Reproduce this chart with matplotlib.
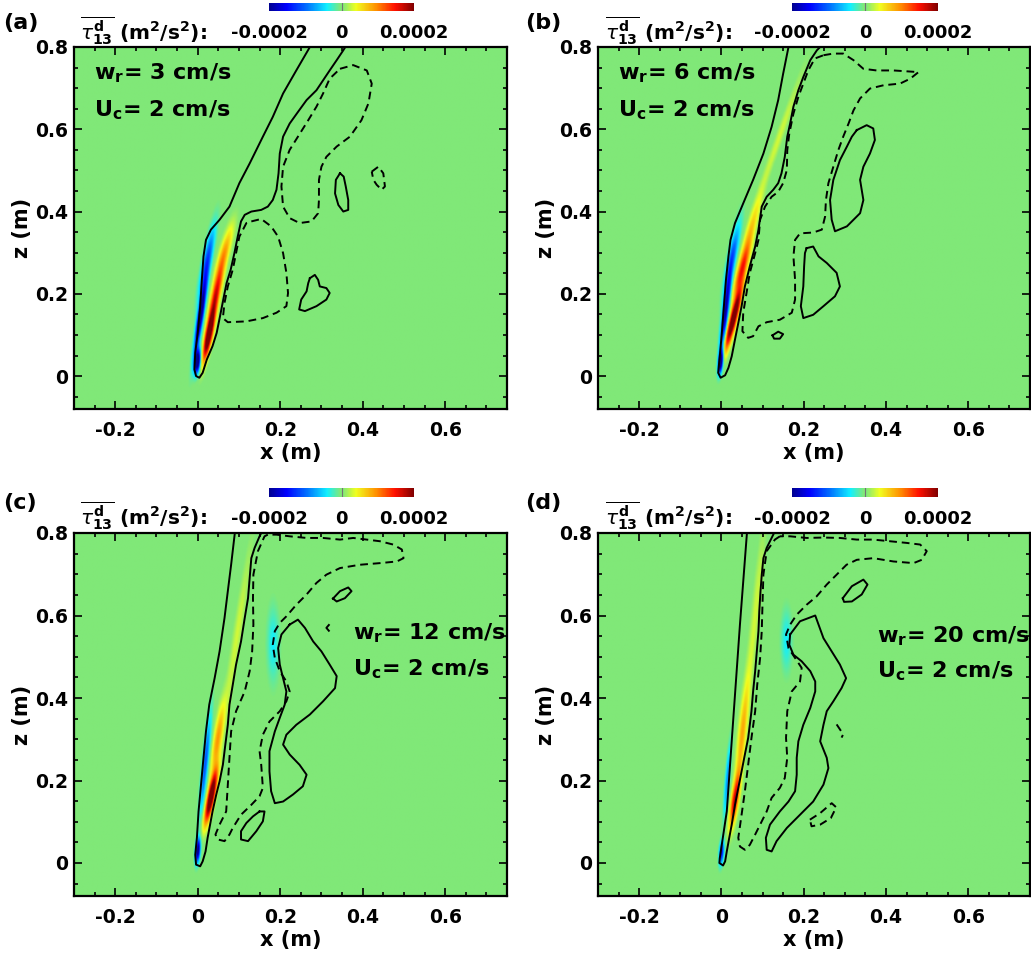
import numpy as np
import matplotlib.pyplot as plt
from matplotlib.colors import LinearSegmentedColormap
from matplotlib.ticker import MultipleLocator

# ---- values: x, z in m, stress amplitude in 1e-4 m^2/s^2 ----
panel_tags = ['(a)', '(b)', '(c)', '(d)']
wr_cm_s = [3, 6, 12, 20]
uc_cm_s = [2, 2, 2, 2]
x_ticks = [-0.2, 0, 0.2, 0.4, 0.6]
x_tick_labels = ['-0.2', '0', '0.2', '0.4', '0.6']
z_ticks = [0, 0.2, 0.4, 0.6, 0.8]
z_tick_labels = ['0', '0.2', '0.4', '0.6', '0.8']
cbar_ticks = [-0.0002, 0, 0.0002]
cbar_tick_labels = ['-0.0002', '0', '0.0002']

# plume cores: (x, z, sigma across, sigma along, amplitude, tilt dx/dz)
a_cores = [(-0.001, 0.035, 0.005, 0.020, -2.6, 0.10),
           (0.007, 0.15, 0.005, 0.065, -2.3, 0.15),
           (0.022, 0.28, 0.007, 0.060, -1.1, 0.20),
           (0.027, 0.10, 0.006, 0.045, 2.6, 0.20),
           (0.044, 0.20, 0.007, 0.050, 1.5, 0.22),
           (0.064, 0.30, 0.008, 0.050, 0.8, 0.28)]
b_cores = [(-0.002, 0.035, 0.004, 0.020, -2.6, 0.10),
           (0.010, 0.16, 0.005, 0.065, -2.0, 0.12),
           (0.026, 0.29, 0.007, 0.060, -1.0, 0.20),
           (0.029, 0.14, 0.006, 0.055, 2.6, 0.25),
           (0.050, 0.26, 0.007, 0.050, 1.4, 0.28),
           (0.072, 0.36, 0.007, 0.060, 0.6, 0.30),
           (0.140, 0.58, 0.006, 0.120, 0.3, 0.35)]
c_cores = [(0.000, 0.030, 0.004, 0.020, -2.2, 0.08),
           (0.018, 0.24, 0.005, 0.080, -1.1, 0.10),
           (0.032, 0.16, 0.006, 0.045, 2.6, 0.20),
           (0.048, 0.30, 0.007, 0.060, 0.9, 0.15),
           (0.095, 0.55, 0.007, 0.150, 0.3, 0.15),
           (0.183, 0.53, 0.010, 0.060, -0.4, 0.00)]
d_cores = [(0.000, 0.025, 0.004, 0.020, -1.5, 0.08),
           (0.014, 0.20, 0.004, 0.060, -0.8, 0.08),
           (0.032, 0.15, 0.006, 0.045, 1.6, 0.15),
           (0.050, 0.31, 0.007, 0.090, 0.8, 0.10),
           (0.082, 0.60, 0.007, 0.150, 0.3, 0.10),
           (0.158, 0.54, 0.009, 0.050, -0.4, 0.00)]

# contour lines (x, z)
a_outer = [(0.272, 0.800), (0.239, 0.743), (0.207, 0.687), (0.182, 0.630), (0.158, 0.582),
           (0.126, 0.517), (0.101, 0.469), (0.077, 0.412), (0.053, 0.380), (0.032, 0.356),
           (0.020, 0.331), (0.014, 0.291), (0.010, 0.234), (0.006, 0.170), (0.000, 0.105),
           (-0.006, 0.057), (-0.008, 0.016), (-0.004, 0.000), (0.004, -0.004), (0.012, 0.008),
           (0.022, 0.040), (0.036, 0.073), (0.046, 0.105), (0.054, 0.145), (0.062, 0.186),
           (0.070, 0.226), (0.080, 0.259), (0.089, 0.299), (0.097, 0.339), (0.105, 0.376),
           (0.114, 0.392), (0.130, 0.400), (0.154, 0.404), (0.170, 0.412), (0.182, 0.428),
           (0.191, 0.453), (0.196, 0.493), (0.199, 0.541), (0.207, 0.582), (0.223, 0.614),
           (0.243, 0.642), (0.264, 0.671), (0.288, 0.695), (0.304, 0.719), (0.320, 0.743),
           (0.337, 0.768), (0.353, 0.792), (0.358, 0.800)]
a_dash_low = [(0.130, 0.376), (0.154, 0.382), (0.178, 0.364), (0.195, 0.339), (0.207, 0.299),
              (0.215, 0.251), (0.219, 0.202), (0.215, 0.170), (0.191, 0.154), (0.158, 0.141),
              (0.118, 0.133), (0.073, 0.131), (0.061, 0.141), (0.065, 0.178), (0.073, 0.218),
              (0.085, 0.259), (0.093, 0.299), (0.101, 0.339), (0.118, 0.372)]
a_dash_up = [(0.345, 0.747), (0.377, 0.756), (0.410, 0.743), (0.422, 0.711), (0.414, 0.663),
             (0.397, 0.622), (0.369, 0.582), (0.337, 0.558), (0.312, 0.533), (0.300, 0.509),
             (0.294, 0.477), (0.294, 0.428), (0.292, 0.396), (0.276, 0.376), (0.247, 0.372),
             (0.223, 0.384), (0.207, 0.412), (0.203, 0.461), (0.207, 0.509), (0.223, 0.550),
             (0.243, 0.582), (0.268, 0.622), (0.288, 0.655), (0.304, 0.687), (0.320, 0.723)]
a_solid_up = [(0.345, 0.493), (0.354, 0.485), (0.359, 0.461), (0.365, 0.428), (0.365, 0.404),
              (0.353, 0.400), (0.341, 0.416), (0.333, 0.444), (0.335, 0.477)]
a_dash_tiny = [(0.422, 0.497), (0.438, 0.509), (0.450, 0.493), (0.454, 0.461), (0.446, 0.453),
               (0.434, 0.465), (0.426, 0.477)]
a_solid_low = [(0.272, 0.238), (0.284, 0.246), (0.292, 0.234), (0.296, 0.218), (0.312, 0.214),
               (0.320, 0.202), (0.312, 0.186), (0.288, 0.170), (0.260, 0.158), (0.246, 0.162),
               (0.251, 0.186), (0.264, 0.206), (0.268, 0.226)]

b_outer = [(0.163, 0.800), (0.150, 0.735), (0.138, 0.671), (0.122, 0.606), (0.102, 0.541),
           (0.077, 0.477), (0.053, 0.420), (0.033, 0.372), (0.022, 0.331), (0.017, 0.291),
           (0.011, 0.234), (0.006, 0.170), (0.001, 0.105), (-0.004, 0.048), (-0.008, 0.008),
           (-0.002, -0.004), (0.009, 0.002), (0.017, 0.020), (0.025, 0.048), (0.033, 0.089),
           (0.041, 0.129), (0.049, 0.170), (0.057, 0.218), (0.069, 0.267), (0.082, 0.315),
           (0.090, 0.356), (0.098, 0.412), (0.110, 0.436), (0.126, 0.453), (0.138, 0.469),
           (0.146, 0.493), (0.154, 0.533), (0.160, 0.582), (0.167, 0.614), (0.175, 0.655),
           (0.187, 0.695), (0.199, 0.727), (0.216, 0.768), (0.232, 0.792), (0.240, 0.800)]
b_dash = [(0.248, 0.780), (0.272, 0.784), (0.296, 0.784), (0.321, 0.768), (0.345, 0.747),
          (0.377, 0.743), (0.418, 0.743), (0.479, 0.739), (0.459, 0.723), (0.434, 0.711),
          (0.394, 0.707), (0.361, 0.699), (0.337, 0.675), (0.321, 0.646), (0.309, 0.614),
          (0.296, 0.582), (0.284, 0.549), (0.272, 0.509), (0.260, 0.469), (0.254, 0.428),
          (0.252, 0.388), (0.244, 0.356), (0.223, 0.349), (0.191, 0.347), (0.179, 0.331),
          (0.175, 0.291), (0.179, 0.234), (0.179, 0.186), (0.171, 0.154), (0.142, 0.137),
          (0.110, 0.131), (0.090, 0.121), (0.077, 0.097), (0.065, 0.093), (0.051, 0.109),
          (0.053, 0.154), (0.061, 0.202), (0.069, 0.251), (0.082, 0.299), (0.090, 0.331),
          (0.094, 0.380), (0.106, 0.412), (0.122, 0.436), (0.138, 0.448), (0.150, 0.469),
          (0.159, 0.501), (0.160, 0.549), (0.165, 0.590), (0.175, 0.638), (0.187, 0.679),
          (0.199, 0.711), (0.211, 0.743), (0.227, 0.772)]
b_solid_up = [(0.329, 0.598), (0.353, 0.610), (0.369, 0.602), (0.373, 0.574), (0.361, 0.541),
              (0.345, 0.509), (0.337, 0.477), (0.345, 0.428), (0.337, 0.396), (0.305, 0.364),
              (0.276, 0.352), (0.268, 0.380), (0.264, 0.428), (0.272, 0.477), (0.288, 0.525),
              (0.305, 0.558), (0.317, 0.582)]
b_solid_low = [(0.207, 0.311), (0.223, 0.315), (0.236, 0.291), (0.256, 0.275), (0.280, 0.251),
               (0.288, 0.218), (0.276, 0.194), (0.248, 0.170), (0.223, 0.149), (0.199, 0.141),
               (0.193, 0.170), (0.199, 0.218), (0.201, 0.267), (0.203, 0.299)]
b_solid_tiny = [(0.124, 0.099), (0.138, 0.108), (0.150, 0.102), (0.142, 0.091), (0.128, 0.091)]

c_outer = [(0.090, 0.800), (0.081, 0.723), (0.073, 0.659), (0.065, 0.594), (0.053, 0.513),
           (0.041, 0.448), (0.028, 0.384), (0.020, 0.319), (0.014, 0.255), (0.008, 0.190),
           (0.002, 0.125), (-0.002, 0.061), (-0.006, 0.020), (-0.004, -0.004), (0.006, -0.008),
           (0.012, 0.004), (0.019, 0.028), (0.024, 0.061), (0.030, 0.093), (0.036, 0.125),
           (0.045, 0.166), (0.053, 0.198), (0.061, 0.238), (0.067, 0.287), (0.073, 0.335),
           (0.077, 0.384), (0.085, 0.432), (0.093, 0.481), (0.105, 0.537), (0.114, 0.594),
           (0.122, 0.642), (0.126, 0.691), (0.130, 0.739), (0.138, 0.764), (0.150, 0.792),
           (0.154, 0.800)]
c_dash = [(0.170, 0.796), (0.162, 0.792), (0.146, 0.756), (0.135, 0.699), (0.134, 0.642),
          (0.135, 0.578), (0.132, 0.513), (0.126, 0.465), (0.114, 0.416), (0.093, 0.368),
          (0.081, 0.319), (0.077, 0.255), (0.073, 0.190), (0.069, 0.125), (0.053, 0.093),
          (0.043, 0.069), (0.049, 0.057), (0.065, 0.053), (0.077, 0.069), (0.085, 0.085),
          (0.105, 0.117), (0.130, 0.141), (0.150, 0.162), (0.158, 0.182), (0.154, 0.238),
          (0.150, 0.271), (0.158, 0.311), (0.174, 0.343), (0.199, 0.368), (0.215, 0.392),
          (0.223, 0.416), (0.215, 0.440), (0.199, 0.465), (0.187, 0.497), (0.182, 0.529),
          (0.187, 0.562), (0.199, 0.582), (0.215, 0.598), (0.239, 0.626), (0.264, 0.651),
          (0.288, 0.679), (0.312, 0.699), (0.345, 0.715), (0.393, 0.723), (0.442, 0.727),
          (0.483, 0.731), (0.499, 0.739), (0.495, 0.760), (0.474, 0.772), (0.442, 0.780),
          (0.410, 0.784), (0.377, 0.788), (0.345, 0.784), (0.304, 0.788), (0.264, 0.788),
          (0.223, 0.792), (0.191, 0.796)]
c_solid_big = [(0.223, 0.578), (0.243, 0.590), (0.260, 0.570), (0.280, 0.537), (0.300, 0.513),
               (0.320, 0.481), (0.337, 0.453), (0.333, 0.424), (0.304, 0.392), (0.272, 0.360),
               (0.239, 0.335), (0.215, 0.311), (0.207, 0.287), (0.223, 0.263), (0.247, 0.238),
               (0.264, 0.214), (0.255, 0.186), (0.231, 0.166), (0.207, 0.149), (0.187, 0.145),
               (0.178, 0.174), (0.174, 0.222), (0.174, 0.271), (0.187, 0.319), (0.199, 0.352),
               (0.211, 0.384), (0.215, 0.416), (0.207, 0.448), (0.199, 0.481), (0.195, 0.521),
               (0.203, 0.554)]
c_solid_low = [(0.150, 0.125), (0.162, 0.125), (0.158, 0.101), (0.142, 0.077), (0.122, 0.053),
               (0.105, 0.057), (0.105, 0.077), (0.118, 0.097), (0.134, 0.113)]
c_solid_oval = [(0.328, 0.641), (0.345, 0.659), (0.365, 0.668), (0.373, 0.659), (0.357, 0.642),
                (0.337, 0.634)]
c_hook = [(0.318, 0.577), (0.312, 0.570), (0.318, 0.563)]

d_outer = [(0.062, 0.800), (0.045, 0.578), (0.029, 0.352), (0.013, 0.125), (-0.004, 0.012),
           (-0.005, 0.000), (0.004, -0.006), (0.009, 0.004), (0.013, 0.028), (0.019, 0.061),
           (0.025, 0.093), (0.033, 0.141), (0.041, 0.182), (0.049, 0.222), (0.057, 0.263),
           (0.065, 0.303), (0.069, 0.335), (0.073, 0.368), (0.077, 0.416), (0.082, 0.465),
           (0.086, 0.513), (0.090, 0.562), (0.092, 0.610), (0.095, 0.659), (0.098, 0.699),
           (0.102, 0.739), (0.110, 0.764), (0.118, 0.780), (0.128, 0.800)]
d_dash = [(0.142, 0.792), (0.130, 0.784), (0.110, 0.756), (0.102, 0.699), (0.100, 0.634),
          (0.098, 0.562), (0.094, 0.497), (0.087, 0.432), (0.082, 0.368), (0.073, 0.303),
          (0.065, 0.238), (0.057, 0.174), (0.049, 0.117), (0.041, 0.061), (0.045, 0.040),
          (0.057, 0.032), (0.069, 0.044), (0.082, 0.069), (0.094, 0.093), (0.110, 0.125),
          (0.122, 0.158), (0.142, 0.182), (0.154, 0.206), (0.160, 0.255), (0.157, 0.303),
          (0.160, 0.368), (0.171, 0.416), (0.191, 0.440), (0.195, 0.473), (0.179, 0.497),
          (0.163, 0.521), (0.157, 0.554), (0.167, 0.578), (0.183, 0.602), (0.207, 0.626),
          (0.231, 0.646), (0.256, 0.675), (0.280, 0.699), (0.304, 0.723), (0.329, 0.735),
          (0.369, 0.739), (0.418, 0.731), (0.467, 0.727), (0.487, 0.735), (0.499, 0.756),
          (0.483, 0.772), (0.450, 0.776), (0.410, 0.780), (0.369, 0.784), (0.329, 0.784),
          (0.288, 0.788), (0.248, 0.789), (0.207, 0.788), (0.167, 0.792)]
d_solid_big = [(0.167, 0.554), (0.191, 0.586), (0.228, 0.600), (0.236, 0.578), (0.248, 0.545),
               (0.268, 0.513), (0.288, 0.481), (0.303, 0.448), (0.292, 0.424), (0.272, 0.392),
               (0.256, 0.368), (0.248, 0.335), (0.240, 0.295), (0.256, 0.255), (0.260, 0.230),
               (0.248, 0.190), (0.223, 0.149), (0.191, 0.117), (0.159, 0.085), (0.134, 0.053),
               (0.122, 0.028), (0.110, 0.032), (0.108, 0.061), (0.118, 0.093), (0.142, 0.125),
               (0.163, 0.149), (0.179, 0.174), (0.183, 0.214), (0.183, 0.255), (0.187, 0.295),
               (0.199, 0.335), (0.216, 0.376), (0.228, 0.416), (0.228, 0.440), (0.216, 0.465),
               (0.195, 0.489), (0.175, 0.505), (0.165, 0.529)]
d_solid_oval = [(0.295, 0.642), (0.317, 0.671), (0.345, 0.687), (0.355, 0.675), (0.341, 0.651),
                (0.317, 0.634), (0.298, 0.633)]
d_dash_arc = [(0.280, 0.336), (0.288, 0.324), (0.296, 0.312), (0.292, 0.304)]
d_dash_low = [(0.215, 0.105), (0.240, 0.121), (0.268, 0.145), (0.279, 0.135), (0.266, 0.109),
              (0.240, 0.093), (0.219, 0.089)]

# (line, dashed?, closed?)
a_lines = [(a_outer, False, False), (a_dash_low, True, True), (a_dash_up, True, True),
           (a_solid_up, False, True), (a_dash_tiny, True, True), (a_solid_low, False, True)]
b_lines = [(b_outer, False, False), (b_dash, True, True), (b_solid_up, False, True),
           (b_solid_low, False, True), (b_solid_tiny, False, True)]
c_lines = [(c_outer, False, False), (c_dash, True, True), (c_solid_big, False, True),
           (c_solid_low, False, True), (c_solid_oval, False, True), (c_hook, False, False)]
d_lines = [(d_outer, False, False), (d_dash, True, True), (d_solid_big, False, True),
           (d_solid_oval, False, True), (d_dash_arc, True, False), (d_dash_low, True, True)]

# text anchor (x, z) for w_r / U_c labels
note_x = [-0.252, -0.252, 0.376, 0.378]
note_z_w = [0.736, 0.736, 0.558, 0.549]
note_z_u = [0.647, 0.647, 0.469, 0.464]

# jet-like map with a flat, slightly muted green centre, as in the figure
cmap = LinearSegmentedColormap.from_list('tec_jet', [
    (0.00, '#000090'), (0.12, '#0000ff'), (0.26, '#0070ff'), (0.40, '#10f0ff'),
    (0.49, '#80e878'), (0.51, '#80e878'), (0.60, '#f0ff20'), (0.74, '#ff9000'),
    (0.87, '#ff1000'), (1.00, '#800000')])

W, H = 1031, 961
fig = plt.figure(figsize=(W / 100, H / 100), dpi=100)


def px_axes(left, top, width, height):
    return fig.add_axes([left / W, 1 - (top + height) / H, width / W, height / H])


xg = np.linspace(-0.3, 0.75, 526)
zg = np.linspace(-0.08, 0.8, 441)
XX, ZZ = np.meshgrid(xg, zg)


def build_field(cores):
    f = np.zeros_like(XX)
    for x0, z0, sw, sl, amp, tilt in cores:
        n = np.hypot(1.0, tilt)
        dx, dz = XX - x0, ZZ - z0
        along = (dx * tilt + dz) / n
        across = (dx - tilt * dz) / n
        f += amp * 1e-4 * np.exp(-0.5 * ((across / sw) ** 2 + (along / sl) ** 2))
    return f


boxes = [(74, 47, 433, 362), (598, 47, 432, 362), (74, 533, 433, 363), (598, 533, 432, 363)]
cbar_boxes = [(269, 3, 145, 8), (792, 3, 146, 8), (269, 488, 145, 9), (792, 488, 146, 9)]
tag_xy = [(3, 23), (525, 23), (3, 503), (525, 503)]
tau_xy = [(207, 31), (732, 31), (207, 516), (732, 516)]
all_cores = [a_cores, b_cores, c_cores, d_cores]
all_lines = [a_lines, b_lines, c_lines, d_lines]

for i in range(4):
    ax = px_axes(*boxes[i])
    im = ax.imshow(build_field(all_cores[i]), extent=[-0.3, 0.75, -0.08, 0.8], origin='lower',
                   cmap=cmap, vmin=-0.0002, vmax=0.0002, aspect='auto', interpolation='bilinear')
    for pts, dashed, closed in all_lines[i]:
        arr = np.array(pts + [pts[0]] if closed else pts)
        ax.plot(arr[:, 0], arr[:, 1], color='k', lw=1.4,
                ls=(0, (4, 2.5)) if dashed else '-', solid_joinstyle='round')
    ax.set_xlim(-0.3, 0.75)
    ax.set_ylim(-0.08, 0.8)
    ax.set_xticks(x_ticks)
    ax.set_xticklabels(x_tick_labels)
    ax.set_yticks(z_ticks)
    ax.set_yticklabels(z_tick_labels)
    ax.xaxis.set_minor_locator(MultipleLocator(0.05))
    ax.yaxis.set_minor_locator(MultipleLocator(0.05))
    ax.tick_params(which='both', direction='in', top=True, right=True, width=1.2,
                   labelsize=13.5)
    ax.tick_params(which='major', length=5.5)
    ax.tick_params(which='minor', length=3)
    ax.tick_params(axis='x', pad=8.5)
    ax.tick_params(axis='y', pad=4)
    for lab in ax.get_xticklabels() + ax.get_yticklabels():
        lab.set_fontweight('bold')
    for s in ax.spines.values():
        s.set_linewidth(1.6)
    ax.set_xlabel('x (m)', fontsize=15, fontweight='bold')
    ax.set_ylabel('z (m)', fontsize=15, fontweight='bold')
    ax.xaxis.set_label_coords(0.5, -0.093)
    ax.yaxis.set_label_coords(-0.097, 0.5)

    ax.text(note_x[i], note_z_w[i], r'w$_{\mathbf{r}}$= %d cm/s' % wr_cm_s[i],
            fontsize=16, fontweight='bold', va='center', ha='left')
    ax.text(note_x[i], note_z_u[i], r'U$_{\mathbf{c}}$= %d cm/s' % uc_cm_s[i],
            fontsize=16, fontweight='bold', va='center', ha='left')

    cax = px_axes(*cbar_boxes[i])
    cb = fig.colorbar(im, cax=cax, orientation='horizontal', ticks=cbar_ticks)
    cb.outline.set_visible(False)
    cax.set_xticklabels(cbar_tick_labels)
    cax.tick_params(length=0, pad=9, labelsize=13)
    for lab in cax.get_xticklabels():
        lab.set_fontweight('bold')
    cax.axvline(0, color='0.45', lw=0.8)

    fig.text(tag_xy[i][0] / W, 1 - tag_xy[i][1] / H, panel_tags[i], fontsize=16,
             fontweight='bold', ha='left', va='center')
    fig.text(tau_xy[i][0] / W, 1 - tau_xy[i][1] / H,
             r'$\overline{\tau^{\mathbf{d}}_{\mathbf{13}}}$ (m$^{\mathbf{2}}$/s$^{\mathbf{2}}$):',
             fontsize=14.5, fontweight='bold', ha='right', va='center')

fig.savefig('out.png', dpi=100)
